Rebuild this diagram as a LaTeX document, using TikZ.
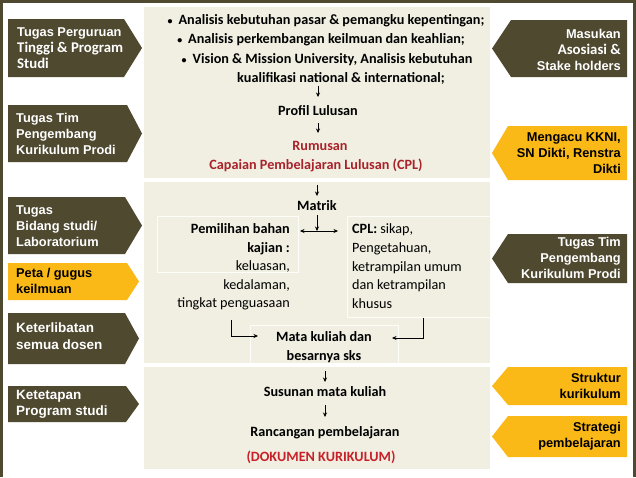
\documentclass[tikz,border=0pt]{standalone}
\usepackage{fontspec}
\setmainfont{Carlito}
\newfontfamily\boxfont{Liberation Sans}
\usetikzlibrary{arrows.meta}
\definecolor{olivebox}{RGB}{79,73,48}
\definecolor{goldbox}{RGB}{250,185,22}
\definecolor{panelbg}{RGB}{241,239,226}
\definecolor{cplred}{RGB}{168,34,42}
\definecolor{dokred}{RGB}{200,32,40}
\definecolor{subline}{RGB}{252,252,248}
\newcommand\lshape[5]{\fill[#5] (8,#1) -- (#3,#1) -- (#4,{(#1+#2)/2}) -- (#3,#2) -- (8,#2) -- cycle;}
\newcommand\rshape[5]{\fill[#5] (627,#1) -- (#3,#1) -- (#4,{(#1+#2)/2}) -- (#3,#2) -- (627,#2) -- cycle;}
\newcommand\smallbul{{\fontsize{10}{10}\selectfont\raisebox{0.5pt}{•}}\hspace{6pt}}
\begin{document}
\begin{tikzpicture}[x=1pt,y=-1pt,
  arr/.style={-{Stealth[length=4.5pt,width=4pt]}, line width=0.6pt},
  arrtwo/.style={{Stealth[length=4.5pt,width=4pt]}-{Stealth[length=4.5pt,width=4pt]}, line width=0.6pt},
  ctext/.style={font=\fontsize{14.2}{19}\selectfont\bfseries, inner sep=0pt, anchor=base},
  rtextc/.style={font=\fontsize{14.2}{19}\selectfont, inner sep=0pt},
  boxtxt/.style={font=\boxfont\bfseries\fontsize{12.8}{16}\selectfont, inner sep=0pt},
  ltext/.style={boxtxt, text=white, align=left, anchor=west},
  rtext/.style={boxtxt, text=white, align=right, anchor=east},
  subbox/.style={draw=subline, line width=0.9pt}
]
\useasboundingbox (0,0) rectangle (636,477);
\fill[white] (0,0) rectangle (636,477);
% frame
\fill[olivebox] (0,0) rectangle (636,3);
\fill[olivebox] (0,0) rectangle (3,477);
\fill[olivebox] (633,0) rectangle (636,477);
% central panels
\fill[panelbg] (144,7) rectangle (490,178);
\fill[panelbg] (144,182) rectangle (490,363);
\fill[panelbg] (144,367) rectangle (490,469);
\draw[subbox] (157,216) rectangle (298,272);
\draw[subbox] (347,216) rectangle (490,317);
\draw[subbox] (250,363) -- (250,325) -- (398,325) -- (398,363);
% left arrow boxes
\lshape{19}{77}{124}{142}{olivebox}
\lshape{105}{162}{127}{142}{olivebox}
\lshape{197}{254}{125}{142}{olivebox}
\lshape{263}{300}{127}{139}{goldbox}
\lshape{313}{364}{125}{139}{olivebox}
\lshape{386}{422}{126}{139}{olivebox}
% right arrow boxes
\rshape{20}{77}{511}{492}{olivebox}
\rshape{126}{180}{508}{492}{goldbox}
\rshape{234}{283}{508}{492}{olivebox}
\rshape{367}{405}{508}{492}{goldbox}
\rshape{416}{457}{508}{492}{goldbox}
% left texts
\node[ltext] (lA) at (17,48.5) {Tugas Perguruan\\{\rmfamily\fontsize{14.8}{16}\selectfont Tinggi \& Program}\\{\rmfamily\fontsize{14.8}{16}\selectfont Studi}};
\node[ltext] (lB) at (16,134) {Tugas Tim\\Pengembang\\Kurikulum Prodi};
\node[ltext] (lC) at (16,226.5) {Tugas\\Bidang studi/\\Laboratorium};
\node[ltext, text=black] (lD) at (16,281) {Peta / gugus\\keilmuan};
\node[ltext, font=\boxfont\bfseries\fontsize{13.5}{17}\selectfont] (lE) at (16,336) {Keterlibatan\\semua dosen};
\node[ltext, font=\boxfont\bfseries\fontsize{13.5}{16}\selectfont] (lF) at (16,404) {Ketetapan\\Program studi};
% right texts
\node[rtext] (rA) at (621,49.5) {Masukan\\{\rmfamily\fontsize{14.8}{16}\selectfont Asosiasi \&}\\Stake holders};
\node[rtext, text=black] (rB) at (621,153) {Mengacu KKNI,\\SN Dikti, Renstra\\Dikti};
\node[rtext] (rC) at (621,257.5) {Tugas Tim\\Pengembang\\Kurikulum Prodi};
\node[rtext, text=black] (rD) at (621,386) {Struktur\\kurikulum};
\node[rtext, text=black] (rE) at (621,436.5) {Strategi\\pembelajaran};
% central texts
\node[ctext] (t1) at (326,24.5) {\smallbul Analisis kebutuhan pasar \& pemangku kepentingan;};
\node[ctext] (t2) at (321,43.5) {\smallbul Analisis perkembangan keilmuan dan keahlian;};
\node[ctext] (t3) at (327,63.5) {\smallbul Vision \& Mission University, Analisis kebutuhan};
\node[ctext] (t4) at (341,82.5) {kualifikasi national \& international;};
\node[ctext] (profil) at (318,115.5) {Profil Lulusan};
\node[ctext, text=cplred] (rum) at (320,150.5) {Rumusan};
\node[ctext, text=cplred] (cap) at (316,169.5) {Capaian Pembelajaran Lulusan (CPL)};
\node[ctext] (matrik) at (317,210.5) {Matrik};
\node[ctext, anchor=base east] (p1) at (290,233.5) {Pemilihan bahan};
\node[ctext, anchor=base east] (p2) at (290,252.5) {kajian :};
\node[rtextc, anchor=base east] (p3) at (290,270.5) {keluasan,};
\node[rtextc, anchor=base east] (p4) at (290,289.5) {kedalaman,};
\node[rtextc, anchor=base east] (p5) at (290,307.5) {tingkat penguasaan};
\node[rtextc, anchor=base west] (c1) at (352,233.5) {\textbf{CPL:} sikap,};
\node[rtextc, anchor=base west] (c2) at (352,252.5) {Pengetahuan,};
\node[rtextc, anchor=base west] (c3) at (352,271.5) {ketrampilan umum};
\node[rtextc, anchor=base west] (c4) at (352,289.5) {dan ketrampilan};
\node[rtextc, anchor=base west] (c5) at (352,308.5) {khusus};
\node[ctext] (mk1) at (324,341.5) {Mata kuliah dan};
\node[ctext] (mk2) at (324,360) {besarnya sks};
\node[ctext] (sus) at (325,396.5) {Susunan mata kuliah};
\node[ctext] (ran) at (325,436.5) {Rancangan pembelajaran};
\node[ctext, text=dokred] (dok) at (321,461.5) {(DOKUMEN KURIKULUM)};
% arrows
\draw[arr] ([yshift=29.5pt]profil.base) -- ([yshift=18.5pt]profil.base);
\draw[arr] ([yshift=-7.5pt]profil.base) -- ([yshift=-17.5pt]profil.base);
\draw[arr] ([yshift=25.5pt]matrik.base) -- ([yshift=14.5pt]matrik.base);
\draw[arr] ([yshift=-4.5pt]matrik.base) -- ([yshift=-20.5pt]matrik.base);
\coordinate (hl) at (300,231);
\coordinate (hr) at (338,231);
\draw[arrtwo] (hl) -- (hr);
\coordinate (e1) at (231,320);
\coordinate (e1end) at (258,336);
\draw[arr] (e1) |- (e1end);
\coordinate (e2) at (423,318);
\coordinate (e2end) at (392,338);
\draw[arr] (e2) |- (e2end);
\draw[arr] ([yshift=25.5pt]sus.base) -- ([yshift=14.5pt]sus.base);
\draw[arr] ([yshift=-8.5pt]sus.base) -- ([yshift=-20.5pt]sus.base);
\end{tikzpicture}
\end{document}
